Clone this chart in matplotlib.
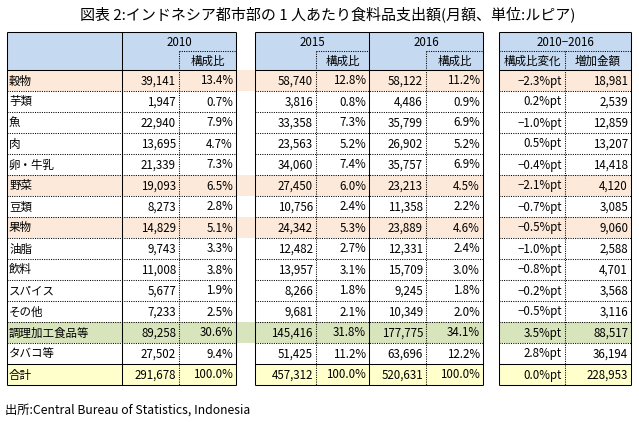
import matplotlib

matplotlib.use("Agg")
import matplotlib.pyplot as plt
from matplotlib.patches import Rectangle

plt.rcParams["font.family"] = ["Noto Sans CJK JP", "DejaVu Sans"]

# データ (単位: ルピア)
categories = ["穀物", "芋類", "魚", "肉", "卵・牛乳", "野菜", "豆類", "果物",
              "油脂", "飲料", "スパイス", "その他", "調理加工食品等", "タバコ等", "合計"]
v2010 = [39141, 1947, 22940, 13695, 21339, 19093, 8273, 14829,
         9743, 11008, 5677, 7233, 89258, 27502, 291678]
s2010 = [13.4, 0.7, 7.9, 4.7, 7.3, 6.5, 2.8, 5.1, 3.3, 3.8, 1.9, 2.5, 30.6, 9.4, 100.0]
v2015 = [58740, 3816, 33358, 23563, 34060, 27450, 10756, 24342,
         12482, 13957, 8266, 9681, 145416, 51425, 457312]
s2015 = [12.8, 0.8, 7.3, 5.2, 7.4, 6.0, 2.4, 5.3, 2.7, 3.1, 1.8, 2.1, 31.8, 11.2, 100.0]
v2016 = [58122, 4486, 35799, 26902, 35757, 23213, 11358, 23889,
         12331, 15709, 9245, 10349, 177775, 63696, 520631]
s2016 = [11.2, 0.9, 6.9, 5.2, 6.9, 4.5, 2.2, 4.6, 2.4, 3.0, 1.8, 2.0, 34.1, 12.2, 100.0]
chg = [-2.3, 0.2, -1.0, 0.5, -0.4, -2.1, -0.7, -0.5, -1.0, -0.8, -0.2, -0.5, 3.5, 2.8, 0.0]
inc = [18981, 2539, 12859, 13207, 14418, 4120, 3085, 9060,
       2588, 4701, 3568, 3116, 88517, 36194, 228953]

orange_rows = ["穀物", "野菜", "果物"]
green_rows = ["調理加工食品等"]
total_row = "合計"

# レイアウト (ピクセル)
W, H = 639, 422
T1 = [7, 122, 179, 236]
T2 = [255, 316, 369, 426, 483]
T3 = [499, 565, 631]
TOP, MID, HBOT = 32, 51, 70
ROW_H = 21
BOT = HBOT + ROW_H * len(categories)

C_HEAD = "#C5D9F1"
C_ORANGE = "#FDE9D9"
C_GREEN = "#D8E4BC"
C_YELLOW = "#FFFFCC"
FS = 8.3
LW = 0.75
DOT = (0, (1, 1.2))

fig = plt.figure(figsize=(W / 100, H / 100), dpi=100)
ax = fig.add_axes([0, 0, 1, 1])
ax.set_xlim(0, W)
ax.set_ylim(H, 0)
ax.axis("off")


def rect(x0, x1, y0, y1, color):
    ax.add_patch(Rectangle((x0, y0), x1 - x0, y1 - y0, facecolor=color,
                           edgecolor="none", zorder=1))


def hline(y, x0, x1, dotted=False):
    ax.plot([x0, x1], [y, y], color="black", lw=LW,
            ls=DOT if dotted else "-", zorder=3, solid_capstyle="butt")


def vline(x, y0, y1, dotted=False):
    ax.plot([x, x], [y0, y1], color="black", lw=LW,
            ls=DOT if dotted else "-", zorder=3, solid_capstyle="butt")


# 背景色
tables = [(T1[0], T1[-1]), (T2[0], T2[-1]), (T3[0], T3[-1])]
for x0, x1 in tables:
    rect(x0, x1, TOP, HBOT, C_HEAD)

for i, cat in enumerate(categories):
    y0 = HBOT + i * ROW_H
    y1 = y0 + ROW_H
    if cat in orange_rows or cat in green_rows:
        c = C_ORANGE if cat in orange_rows else C_GREEN
        rect(T1[0], T2[-1], y0, y1, c)
        rect(T3[0], T3[-1], y0, y1, c)
    elif cat == total_row:
        for x0, x1 in tables:
            rect(x0, x1, y0, y1, C_YELLOW)

# 罫線
for x0, x1 in tables:
    hline(TOP, x0, x1)
    hline(HBOT, x0, x1)
    hline(BOT, x0, x1)
    vline(x0, TOP, BOT)
    vline(x1, TOP, BOT)
    for i in range(1, len(categories)):
        y = HBOT + i * ROW_H
        hline(y, x0, x1, dotted=(categories[i] != total_row))

vline(T1[1], TOP, BOT)
vline(T2[2], TOP, BOT)
for x in [T1[2], T2[1], T2[3], T3[1]]:
    vline(x, MID, BOT, dotted=True)
hline(MID, T1[2], T1[3], dotted=True)
hline(MID, T2[1], T2[2], dotted=True)
hline(MID, T2[3], T2[4], dotted=True)
hline(MID, T3[0], T3[2], dotted=True)

# ヘッダー
def ctext(x, y, s):
    ax.text(x, y, s, ha="center", va="center", fontsize=FS, zorder=4)


hy1 = (TOP + MID) / 2 + 0.5
hy2 = (MID + HBOT) / 2 + 0.5
ctext((T1[1] + T1[3]) / 2, hy1, "2010")
ctext((T1[2] + T1[3]) / 2, hy2, "構成比")
ctext((T2[0] + T2[2]) / 2, hy1, "2015")
ctext((T2[1] + T2[2]) / 2, hy2, "構成比")
ctext((T2[2] + T2[4]) / 2, hy1, "2016")
ctext((T2[3] + T2[4]) / 2, hy2, "構成比")
ctext((T3[0] + T3[2]) / 2, hy1, "2010−2016")
ctext((T3[0] + T3[1]) / 2, hy2, "構成比変化")
ctext((T3[1] + T3[2]) / 2, hy2, "増加金額")


# 本体
def rtext(x, y, s):
    ax.text(x - 3, y, s, ha="right", va="center", fontsize=FS, zorder=4)


def pct(v):
    return f"{v:.1f}%"


def ptxt(v):
    return f"{v:.1f}%pt".replace("-", "−")


for i, cat in enumerate(categories):
    y = HBOT + i * ROW_H + ROW_H / 2 + 0.5
    ax.text(T1[0] + 2, y, cat, ha="left", va="center", fontsize=FS, zorder=4)
    rtext(T1[2], y, f"{v2010[i]:,}")
    rtext(T1[3], y, pct(s2010[i]))
    rtext(T2[1], y, f"{v2015[i]:,}")
    rtext(T2[2], y, pct(s2015[i]))
    rtext(T2[3], y, f"{v2016[i]:,}")
    rtext(T2[4], y, pct(s2016[i]))
    rtext(T3[1], y, ptxt(chg[i]))
    rtext(T3[2], y, f"{inc[i]:,}")

# タイトル・出所
ax.text(328, 14, "図表 2:インドネシア都市部の 1 人あたり食料品支出額(月額、単位:ルピア)",
        ha="center", va="center", fontsize=10.8)
ax.text(5, 410, "出所:Central Bureau of Statistics, Indonesia",
        ha="left", va="center", fontsize=8.8)

fig.savefig("out.png", dpi=100)
